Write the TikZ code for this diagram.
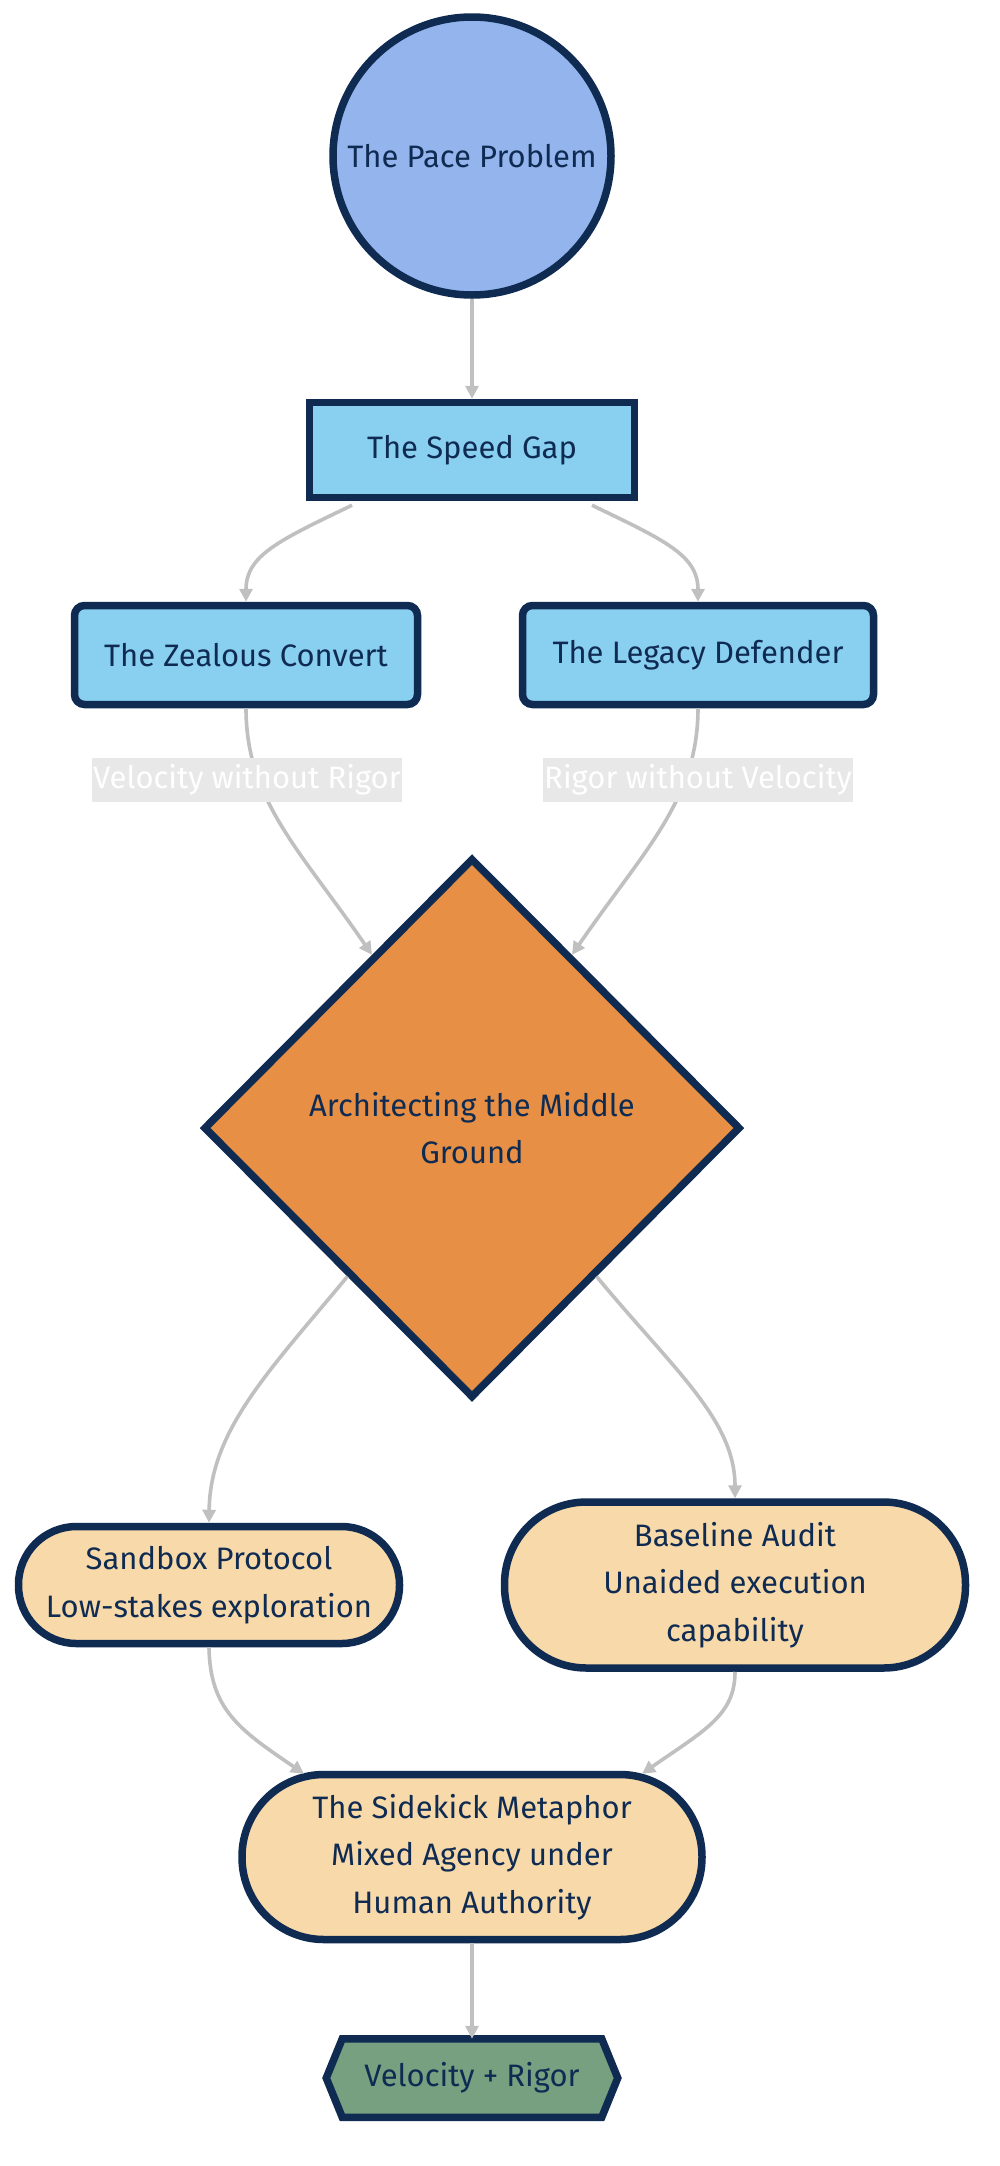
\documentclass[tikz,border=0pt]{standalone}
\usepackage{fontspec}
\setmainfont{Fira Sans}
\usetikzlibrary{shapes.geometric,arrows.meta,backgrounds}
\definecolor{navy}{HTML}{0F2B52}
\definecolor{circfill}{HTML}{93B4EC}
\definecolor{skyfill}{HTML}{89CFF0}
\definecolor{orfill}{HTML}{E68F45}
\definecolor{tanfill}{HTML}{F8D9A9}
\definecolor{hexfill}{HTML}{76A080}
\definecolor{edgec}{HTML}{C0C0C0}
\definecolor{labbg}{HTML}{E8E8E8}
\begin{document}
\begin{tikzpicture}[x=1pt,y=-1pt,
  base/.style={draw=navy, line width=7.5pt, text=navy, font=\fontsize{31}{47.5}\selectfont, align=center, inner sep=0pt},
  rectbox/.style={base, rectangle, fill=skyfill},
  stad/.style={base, rectangle, fill=tanfill},
  edge/.style={draw=edgec, line width=3.6pt, -{Triangle[length=13pt,width=13pt]}},
  lab/.style={fill=labbg, text=white, font=\fontsize{31}{36}\selectfont, inner xsep=1pt, inner ysep=7pt}
]
\useasboundingbox (0,0) rectangle (1000,2166);

\node[base, circle, fill=circfill, minimum size=278pt] (pace) at (472,156) {The Pace Problem};
\node[rectbox, minimum width=325pt, minimum height=95pt] (gap) at (472,450) {The Speed Gap};
\node[rectbox, rounded corners=10pt, minimum width=343pt, minimum height=99pt] (zeal) at (246,655) {The Zealous Convert};
\node[rectbox, rounded corners=10pt, minimum width=351pt, minimum height=99pt] (leg) at (698,655) {The Legacy Defender};
\node[base, diamond, fill=orfill, minimum width=537pt, minimum height=540pt] (dia) at (472,1128) {Architecting the Middle\\Ground};
\node[stad, rounded corners=58pt, minimum width=381pt, minimum height=117pt] (sbx) at (209,1585) {Sandbox Protocol\\Low-stakes exploration};
\node[stad, rounded corners=82pt, minimum width=461pt, minimum height=166pt] (bas) at (735,1585) {Baseline Audit\\Unaided execution\\capability};
\node[stad, rounded corners=82pt, minimum width=460pt, minimum height=165pt] (side) at (472,1857) {The Sidekick Metaphor\\Mixed Agency under\\Human Authority};
\node[base, draw=none, rectangle, minimum width=252pt, minimum height=71pt] (hex) at (472,2078) {Velocity + Rigor};
\begin{scope}[on background layer]
\fill[white] (0,0) rectangle (1000,2166);
\draw[draw=navy, line width=7.5pt, fill=hexfill, line join=miter]
  ([xshift=-16pt]hex.west) -- (hex.north west) -- (hex.north east) -- ([xshift=16pt]hex.east)
  -- (hex.south east) -- (hex.south west) -- cycle;
\end{scope}

\draw[edge] (pace.south) -- (gap.north);
\draw[edge] ([xshift=-120pt,yshift=-4pt]gap.south) .. controls (280,540) and (246,555) .. (zeal.north);
\draw[edge] ([xshift=120pt,yshift=-4pt]gap.south) .. controls (664,540) and (698,555) .. (leg.north);
\draw[edge] (zeal.south) .. controls (246,800) and (300,850) .. (dia.120);
\draw[edge] (leg.south) .. controls (698,800) and (644,850) .. (dia.60);
\draw[edge] (dia.230) .. controls (270,1370) and (210,1430) .. (sbx.north);
\draw[edge] (dia.310) .. controls (674,1370) and (735,1420) .. (bas.north);
\draw[edge] (sbx.south) .. controls (210,1710) and (240,1730) .. ([xshift=-168pt,yshift=-3pt]side.north);
\draw[edge] (bas.south) .. controls (735,1715) and (705,1730) .. ([xshift=170pt,yshift=-3pt]side.north);
\draw[edge] (side.south) -- (hex.north);

\node[lab] (l1) at (247,780) {Velocity without Rigor};
\node[lab] (l2) at (698,780) {Rigor without Velocity};
\end{tikzpicture}
\end{document}
